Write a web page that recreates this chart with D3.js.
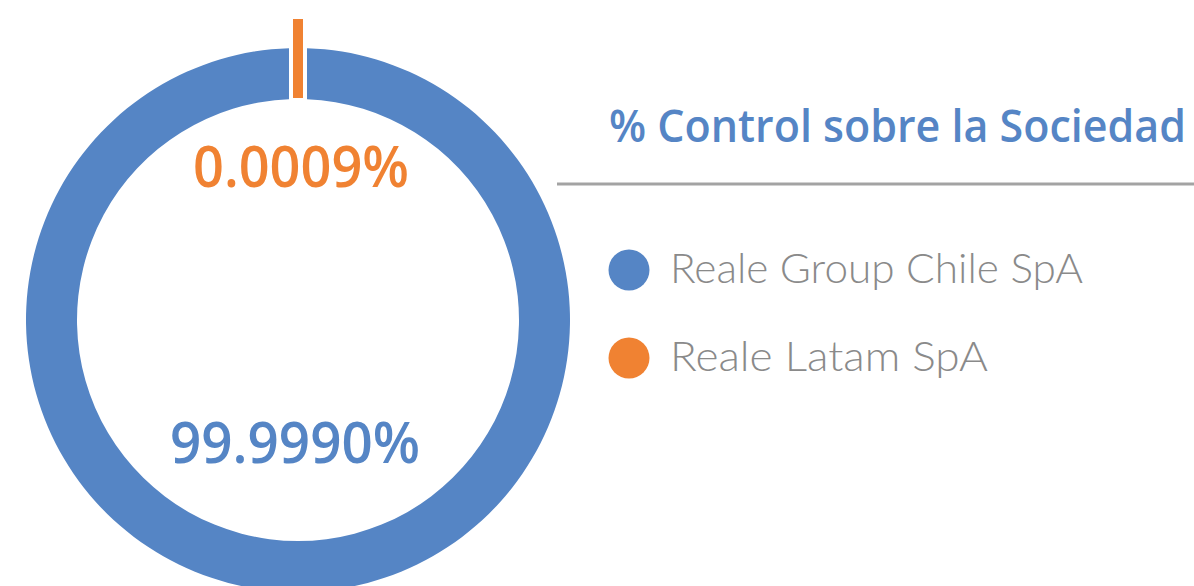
<!DOCTYPE html>
<html><head><meta charset="utf-8">
<script src="https://cdn.jsdelivr.net/npm/d3@7"></script>
<style>html,body{margin:0;padding:0;background:#fff;overflow:hidden}</style>
</head><body>
<svg id="c" width="1194" height="586"></svg>
<script>
const categories = ["Reale Group Chile SpA", "Reale Latam SpA"];
const values = [99.9990, 0.0009];
const valueLabels = ["99.9990%", "0.0009%"];
const colors = ["#5585c5", "#f08232"];
const title = "% Control sobre la Sociedad";

const svg = d3.select("#c");
const cx = 298, cy = 320, R = 272, r = 221;
const g = svg.append("g").attr("transform", `translate(${cx},${cy})`);

// orange slice centered at top
const half = values[1] / d3.sum(values) * Math.PI;
const pie = d3.pie().sort(null).value(d => d)
  .startAngle(half).endAngle(2 * Math.PI + half);
const arcs = pie(values);

const arc = d3.arc().innerRadius(r).outerRadius(R).padRadius(R).padAngle(18 / R);
g.append("path").attr("d", arc(arcs[0])).attr("fill", colors[0]);

// tiny slice: drawn as a marker bar at its mid angle
const mid = (arcs[1].startAngle + arcs[1].endAngle) / 2;
g.append("rect")
  .attr("x", -5).attr("width", 10)
  .attr("y", -(R + 29)).attr("height", R + 29 - r - 1)
  .attr("transform", `rotate(${mid * 180 / Math.PI})`)
  .attr("fill", colors[1]);

const font = "'Open Sans', 'Noto Sans', sans-serif";
// value labels
svg.append("text").attr("x", 301).attr("y", 187).attr("text-anchor", "middle")
  .attr("font-family", font).attr("font-weight", 600).attr("font-size", 57)
  .attr("fill", colors[1]).attr("textLength", 216).attr("lengthAdjust", "spacingAndGlyphs")
  .text(valueLabels[1]);
svg.append("text").attr("x", 295).attr("y", 463).attr("text-anchor", "middle")
  .attr("font-family", font).attr("font-weight", 600).attr("font-size", 57)
  .attr("fill", colors[0]).attr("textLength", 250).attr("lengthAdjust", "spacingAndGlyphs")
  .text(valueLabels[0]);

// title
svg.append("text").attr("x", 609).attr("y", 142)
  .attr("font-family", font).attr("font-weight", 600).attr("font-size", 46)
  .attr("fill", colors[0]).attr("textLength", 577).attr("lengthAdjust", "spacingAndGlyphs")
  .text(title);
svg.append("line").attr("x1", 557).attr("x2", 1194).attr("y1", 184).attr("y2", 184)
  .attr("stroke", "#a3a3a3").attr("stroke-width", 3);

// legend
const legY = d3.scalePoint().domain(categories).range([270, 358]);
const widths = [413, 318];
const leg = svg.selectAll("g.leg").data(categories).join("g").attr("class", "leg")
  .attr("transform", d => `translate(629,${legY(d)})`);
leg.append("circle").attr("r", 20.5).attr("fill", (d, i) => colors[i]);
leg.append("text").attr("x", 41).attr("y", 13)
  .attr("font-family", "Lato, 'Open Sans', sans-serif").attr("font-weight", 300).attr("font-size", 41)
  .attr("fill", "#8a8a8a")
  .attr("textLength", (d, i) => widths[i]).attr("lengthAdjust", "spacingAndGlyphs")
  .text(d => d);
</script>
</body></html>
